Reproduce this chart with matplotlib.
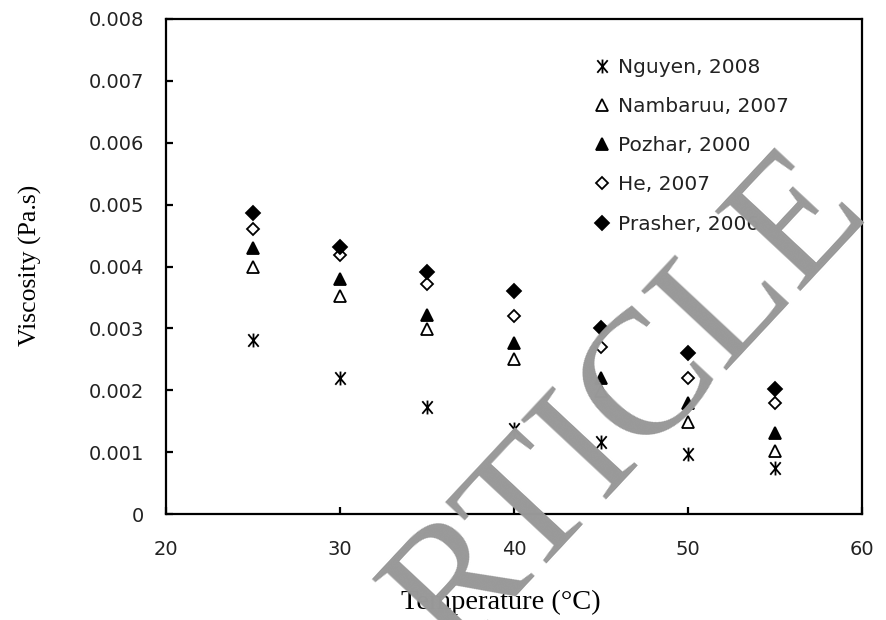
import numpy as np
import matplotlib
matplotlib.use("Agg")
import matplotlib.pyplot as plt
from matplotlib.path import Path
from matplotlib.ticker import MultipleLocator, FuncFormatter

####################################################################################################

temperature = [25, 30, 35, 40, 45, 50, 55]

nguyen = [0.00281, 0.00220, 0.00173, 0.00137, 0.00116, 0.00097, 0.00074]
nambaruu = [0.00399, 0.00352, 0.00299, 0.00250, 0.00198, 0.00149, 0.00102]
pozhar = [0.00430, 0.00380, 0.00321, 0.00276, 0.00220, 0.00179, 0.00131]
he = [0.00460, 0.00418, 0.00371, 0.00320, 0.00270, 0.00220, 0.00180]
prasher = [0.00486, 0.00431, 0.00391, 0.00361, 0.00301, 0.00260, 0.00202]

labels = ['Nguyen, 2008', 'Nambaruu, 2007', 'Pozhar, 2000', 'He, 2007', 'Prasher, 2006']

####################################################################################################

# Excel-like "Ж" asterisk: vertical bar plus a steep X
asterisk = Path(
    [(0, -1), (0, 1), (-0.75, -0.9), (0.75, 0.9), (-0.75, 0.9), (0.75, -0.9)],
    [Path.MOVETO, Path.LINETO, Path.MOVETO, Path.LINETO, Path.MOVETO, Path.LINETO],
)

figure = plt.figure(figsize=(8.87, 6.20), dpi=100)
axes = figure.add_axes([166/887, 1 - 514/620, 696/887, 495/620])

# marker styles: (marker, size, face colour)
styles = [
    (asterisk, 10, 'black'),
    ('^', 9, 'white'),
    ('^', 9, 'black'),
    ('D', 6.5, 'white'),
    ('D', 7.5, 'black'),
]

for values, label, (marker, size, face) in zip([nguyen, nambaruu, pozhar, he, prasher], labels, styles):
    axes.plot(temperature, values, linestyle='none', marker=marker, markersize=size,
              markerfacecolor=face, markeredgecolor='black', markeredgewidth=1.3,
              label=label, zorder=3)

axes.set_xlim(20, 60)
axes.set_ylim(0, 0.008)
axes.xaxis.set_major_locator(MultipleLocator(10))
axes.yaxis.set_major_locator(MultipleLocator(0.001))
axes.yaxis.set_major_formatter(FuncFormatter(lambda v, pos: '0' if abs(v) < 1e-9 else '%.3f' % v))

for spine in axes.spines.values():
    spine.set_linewidth(1.6)

axes.tick_params(axis='both', direction='in', length=5, width=1.6, labelsize=14,
                 labelcolor='#222222')
axes.tick_params(axis='y', pad=16)
axes.tick_params(axis='x', pad=19)

axes.set_xlabel('Temperature (°C)', family='Liberation Serif', fontsize=20.5, va='center')
axes.xaxis.set_label_coords((501 - 166)/696, (514 - 602)/495)
axes.set_ylabel('Viscosity (Pa.s)', family='Liberation Serif', fontsize=18.5, va='center')
axes.yaxis.set_label_coords((30 - 166)/696, (514 - 265)/495)

legend = axes.legend(loc='upper left', bbox_to_anchor=((594 - 166)/696, (514 - 58)/495),
                     frameon=False, handlelength=0.8, handletextpad=0.4, labelspacing=1.0,
                     borderpad=0, borderaxespad=0, prop={'family': 'DejaVu Sans', 'size': 14.5})
for text in legend.get_texts():
    text.set_color('#222222')

# watermark
figure.text(588/887, 1 - 455/620, 'ARTICLE', family='Liberation Serif', fontsize=128,
            color='#999999', rotation=47, ha='center', va='center',
            rotation_mode='anchor', zorder=10)

figure.savefig('out.png', dpi=100)
